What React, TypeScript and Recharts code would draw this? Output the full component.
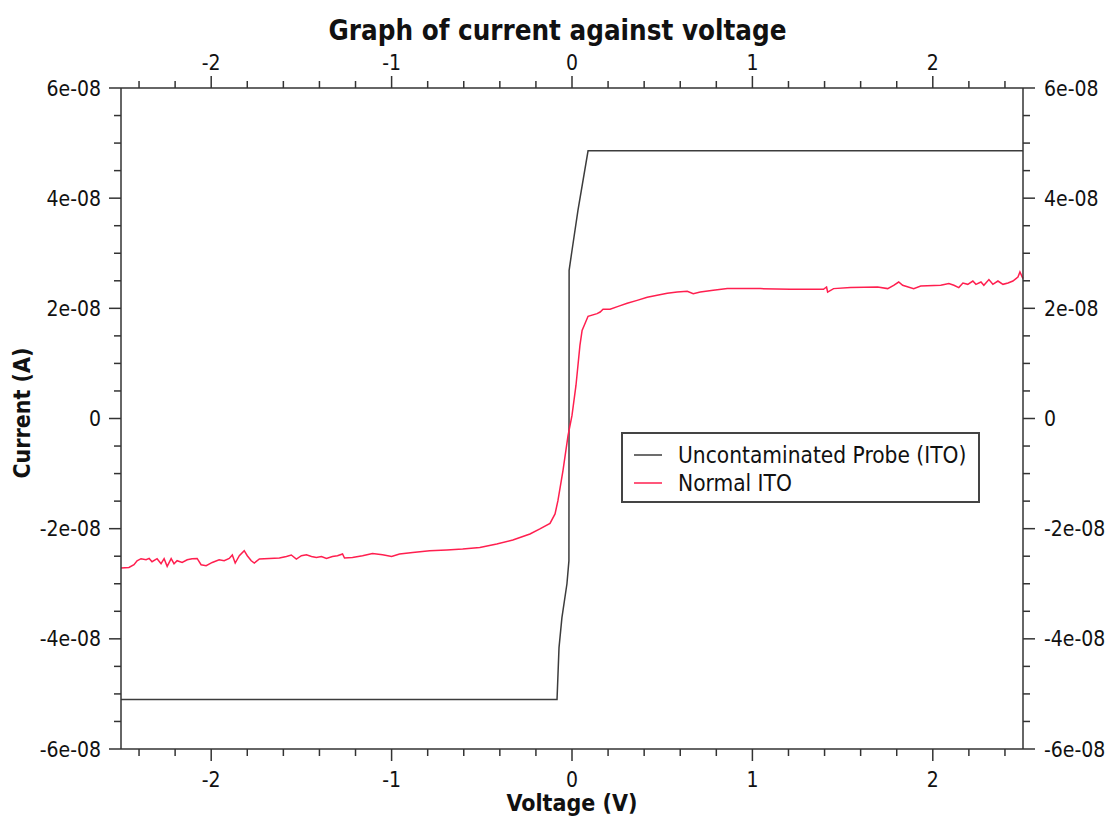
import React from 'react'
import { LineChart, Line, XAxis, YAxis } from 'recharts'

const FONT = '"DejaVu Sans Condensed", "DejaVu Sans", sans-serif'
const AXIS_COLOR = '#333333'
const PROBE_COLOR = '#3c3c3c'
const NORMAL_COLOR = '#ff1f4f'

// Uncontaminated Probe (ITO)
const probeVoltage = [-2.5, -0.083, -0.072, -0.056, -0.028, -0.017, -0.016, 0.0, 0.033, 0.089, 2.5]
const probeCurrent = [-5.1e-8, -5.1e-8, -4.16e-8, -3.62e-8, -3.0e-8, -2.58e-8, 2.69e-8, 3.05e-8, 3.78e-8, 4.86e-8, 4.86e-8]

// Normal ITO
const normalVoltage = [
  -2.5, -2.456, -2.428, -2.411, -2.389, -2.361, -2.344, -2.328, -2.3, -2.278,
  -2.261, -2.244, -2.222, -2.206, -2.189, -2.161, -2.133, -2.106, -2.078, -2.056,
  -2.028, -1.994, -1.956, -1.928, -1.9, -1.883, -1.867, -1.844, -1.817, -1.8,
  -1.778, -1.761, -1.733, -1.678, -1.622, -1.583, -1.556, -1.528, -1.5, -1.472,
  -1.444, -1.417, -1.389, -1.361, -1.328, -1.3, -1.272, -1.261, -1.217, -1.161,
  -1.106, -1.05, -1.0, -0.956, -0.883, -0.789, -0.694, -0.606, -0.511, -0.417,
  -0.328, -0.233, -0.178, -0.122, -0.094, -0.078, -0.05, -0.022, 0.0, 0.022,
  0.044, 0.056, 0.089, 0.139, 0.156, 0.172, 0.211, 0.256, 0.306, 0.361,
  0.417, 0.472, 0.528, 0.583, 0.639, 0.672, 0.711, 0.783, 0.861, 1.044,
  1.211, 1.394, 1.411, 1.417, 1.45, 1.544, 1.694, 1.75, 1.783, 1.811,
  1.833, 1.894, 1.933, 2.044, 2.089, 2.117, 2.144, 2.167, 2.194, 2.222,
  2.239, 2.267, 2.283, 2.311, 2.333, 2.361, 2.389, 2.417, 2.444, 2.472,
  2.483, 2.5,
]
const normalCurrent = [
  -2.715e-8, -2.704e-8, -2.655e-8, -2.582e-8, -2.545e-8, -2.564e-8, -2.54e-8, -2.6e-8, -2.545e-8, -2.636e-8,
  -2.545e-8, -2.685e-8, -2.545e-8, -2.636e-8, -2.582e-8, -2.613e-8, -2.564e-8, -2.545e-8, -2.54e-8, -2.655e-8,
  -2.673e-8, -2.613e-8, -2.564e-8, -2.582e-8, -2.54e-8, -2.478e-8, -2.624e-8, -2.491e-8, -2.4e-8, -2.491e-8,
  -2.582e-8, -2.624e-8, -2.551e-8, -2.54e-8, -2.533e-8, -2.504e-8, -2.478e-8, -2.551e-8, -2.491e-8, -2.473e-8,
  -2.504e-8, -2.522e-8, -2.504e-8, -2.54e-8, -2.504e-8, -2.491e-8, -2.46e-8, -2.533e-8, -2.522e-8, -2.491e-8,
  -2.449e-8, -2.473e-8, -2.504e-8, -2.46e-8, -2.431e-8, -2.4e-8, -2.387e-8, -2.369e-8, -2.34e-8, -2.278e-8,
  -2.205e-8, -2.096e-8, -2.005e-8, -1.904e-8, -1.733e-8, -1.491e-8, -0.945e-8, -0.309e-8, 0.055e-8, 0.6e-8,
  1.327e-8, 1.6e-8, 1.855e-8, 1.904e-8, 1.933e-8, 1.982e-8, 1.982e-8, 2.036e-8, 2.091e-8, 2.145e-8,
  2.2e-8, 2.236e-8, 2.273e-8, 2.296e-8, 2.309e-8, 2.267e-8, 2.296e-8, 2.327e-8, 2.358e-8, 2.358e-8,
  2.345e-8, 2.345e-8, 2.387e-8, 2.296e-8, 2.358e-8, 2.376e-8, 2.387e-8, 2.358e-8, 2.418e-8, 2.478e-8,
  2.418e-8, 2.358e-8, 2.405e-8, 2.418e-8, 2.449e-8, 2.418e-8, 2.376e-8, 2.46e-8, 2.436e-8, 2.496e-8,
  2.436e-8, 2.478e-8, 2.418e-8, 2.522e-8, 2.436e-8, 2.496e-8, 2.436e-8, 2.46e-8, 2.496e-8, 2.569e-8,
  2.66e-8, 2.54e-8,
]

const xMajorTicks = [-2, -1, 0, 1, 2]
const xAllTicks = [
  -2.4, -2.2, -2, -1.8, -1.6, -1.4, -1.2, -1, -0.8, -0.6, -0.4, -0.2, 0,
  0.2, 0.4, 0.6, 0.8, 1, 1.2, 1.4, 1.6, 1.8, 2, 2.2, 2.4,
]
const yMajorTicks = [-6e-8, -4e-8, -2e-8, 0, 2e-8, 4e-8, 6e-8]
const yAllTicks = [
  -6e-8, -5.5e-8, -5e-8, -4.5e-8, -4e-8, -3.5e-8, -3e-8, -2.5e-8, -2e-8, -1.5e-8, -1e-8, -0.5e-8, 0,
  0.5e-8, 1e-8, 1.5e-8, 2e-8, 2.5e-8, 3e-8, 3.5e-8, 4e-8, 4.5e-8, 5e-8, 5.5e-8, 6e-8,
]

const probeData = probeVoltage.map((v, i) => ({ v, i: probeCurrent[i] }))
const normalData = normalVoltage.map((v, i) => ({ v, i: normalCurrent[i] }))

function formatCurrent(v: number) {
  if (Math.abs(v) < 1e-15) return '0'
  const [m, e] = v.toExponential(0).split('e')
  const neg = e.startsWith('-')
  const digits = e.replace(/[+-]/, '').padStart(2, '0')
  return `${m}e${neg ? '-' : ''}${digits}`
}

function isMajor(v: number, majors: number[], tol: number) {
  return majors.some(m => Math.abs(m - v) < tol)
}

const MAJOR_LEN = 12
const MINOR_LEN = 7
const TICK_FONT = 21

function makeTick(side: 'left' | 'right' | 'top' | 'bottom') {
  return (props: any) => {
    const { x, y, payload } = props
    const v = payload.value as number
    const vertical = side === 'left' || side === 'right'
    const major = vertical ? isMajor(v, yMajorTicks, 1e-10) : isMajor(v, xMajorTicks, 1e-6)
    const len = major ? MAJOR_LEN : MINOR_LEN
    let line: React.ReactNode
    let label: React.ReactNode = null
    const textProps = { fontFamily: FONT, fontSize: TICK_FONT, fill: '#111' }
    if (side === 'left') {
      line = <line x1={x - len} y1={y} x2={x} y2={y} stroke={AXIS_COLOR} strokeWidth={1.5} />
      if (major) label = <text x={x - 20} y={y} dy="0.36em" textAnchor="end" {...textProps}>{formatCurrent(v)}</text>
    } else if (side === 'right') {
      line = <line x1={x} y1={y} x2={x + len} y2={y} stroke={AXIS_COLOR} strokeWidth={1.5} />
      if (major) label = <text x={x + 21} y={y} dy="0.36em" textAnchor="start" {...textProps}>{formatCurrent(v)}</text>
    } else if (side === 'top') {
      line = <line x1={x} y1={y - len} x2={x} y2={y} stroke={AXIS_COLOR} strokeWidth={1.5} />
      if (major) label = <text x={x} y={y - 26} dy="0.36em" textAnchor="middle" {...textProps}>{String(v)}</text>
    } else {
      line = <line x1={x} y1={y} x2={x} y2={y + len} stroke={AXIS_COLOR} strokeWidth={1.5} />
      if (major) label = <text x={x} y={y + 30} dy="0.36em" textAnchor="middle" {...textProps}>{String(v)}</text>
    }
    return (
      <g>
        {line}
        {label}
      </g>
    )
  }
}

const legendRows = [
  { name: 'Uncontaminated Probe (ITO)', color: PROBE_COLOR },
  { name: 'Normal ITO', color: NORMAL_COLOR },
]

function LegendBox() {
  return (
    <div
      style={{
        position: 'absolute', left: 621, top: 432, width: 359, height: 71, boxSizing: 'border-box',
        border: '2px solid #444', background: '#fff', padding: '7px 0 0 11px',
        fontFamily: FONT, fontSize: 22.5, color: '#111', lineHeight: '28px',
      }}
    >
      {legendRows.map(r => (
        <div key={r.name} style={{ display: 'flex', alignItems: 'center' }}>
          <span style={{ display: 'inline-block', width: 28, height: 0, borderTop: `2px solid ${r.color}`, opacity: 0.75, marginRight: 16 }} />
          <span>{r.name}</span>
        </div>
      ))}
    </div>
  )
}

export default function App() {
  return (
    <div style={{ position: 'absolute', left: 0, top: 0, width: 1109, height: 817, background: '#fff' }}>
      <LineChart width={1109} height={817} margin={{ top: 0, right: 0, bottom: 0, left: 0 }}>
        <XAxis
          xAxisId="bottom"
          dataKey="v"
          type="number"
          orientation="bottom"
          domain={[-2.5, 2.5]}
          ticks={xAllTicks}
          tick={makeTick('bottom')}
          tickSize={0}
          tickMargin={0}
          tickLine={false}
          height={68}
          stroke={AXIS_COLOR}
          strokeWidth={1.5}
          interval={0}
        />
        <XAxis
          xAxisId="top"
          dataKey="v"
          type="number"
          orientation="top"
          domain={[-2.5, 2.5]}
          ticks={xAllTicks}
          tick={makeTick('top')}
          tickSize={0}
          tickMargin={0}
          tickLine={false}
          height={88}
          stroke={AXIS_COLOR}
          strokeWidth={1.5}
          interval={0}
        />
        <YAxis
          yAxisId="left"
          type="number"
          orientation="left"
          domain={[-6e-8, 6e-8]}
          ticks={yAllTicks}
          tick={makeTick('left')}
          tickSize={0}
          tickMargin={0}
          tickLine={false}
          width={121}
          stroke={AXIS_COLOR}
          strokeWidth={1.5}
          interval={0}
        />
        <YAxis
          yAxisId="right"
          type="number"
          orientation="right"
          domain={[-6e-8, 6e-8]}
          ticks={yAllTicks}
          tick={makeTick('right')}
          tickSize={0}
          tickMargin={0}
          tickLine={false}
          width={86}
          stroke={AXIS_COLOR}
          strokeWidth={1.5}
          interval={0}
        />
        <Line
          xAxisId="bottom"
          yAxisId="left"
          data={probeData}
          dataKey="i"
          name="Uncontaminated Probe (ITO)"
          type="linear"
          stroke={PROBE_COLOR}
          strokeWidth={1.5}
          dot={false}
          isAnimationActive={false}
        />
        <Line
          xAxisId="top"
          yAxisId="right"
          data={normalData}
          dataKey="i"
          name="Normal ITO"
          type="linear"
          stroke={NORMAL_COLOR}
          strokeWidth={1.5}
          dot={false}
          isAnimationActive={false}
        />
      </LineChart>
      <LegendBox />
      <div
        style={{
          position: 'absolute', left: 0, width: 1109, top: 12, textAlign: 'center',
          fontFamily: FONT, fontWeight: 'bold', fontSize: 27.5, color: '#111', lineHeight: '36px',
          paddingLeft: 6, boxSizing: 'border-box',
        }}
      >
        Graph of current against voltage
      </div>
      <div
        style={{
          position: 'absolute', left: 472, width: 200, top: 789, textAlign: 'center',
          fontFamily: FONT, fontWeight: 'bold', fontSize: 23, color: '#111', lineHeight: '28px',
        }}
      >
        Voltage (V)
      </div>
      <div
        style={{
          position: 'absolute', left: 22 - 100, top: 413 - 14, width: 200, textAlign: 'center',
          fontFamily: FONT, fontWeight: 'bold', fontSize: 23, color: '#111', lineHeight: '28px',
          transform: 'rotate(-90deg)',
        }}
      >
        Current (A)
      </div>
    </div>
  )
}
